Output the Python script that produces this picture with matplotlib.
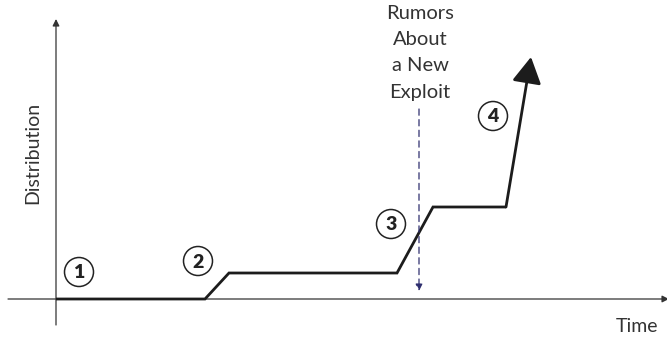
import matplotlib.pyplot as plt
from matplotlib.patches import Circle, FancyArrowPatch

plt.rcParams['font.family'] = ['Lato', 'DejaVu Sans']

# exposure curve (arbitrary units), last segment ends in an arrow head
time = [0, 14.9, 17.3, 34.1, 37.7, 45.0, 47.5]
distribution = [0, 0, 2.6, 2.6, 9.2, 9.2, 24.2]

# moment the rumors appear
rumor_time = 36.3
rumor_text = "Rumors\nAbout\na New\nExploit"

# numbered phases
phase_labels = ["1", "2", "3", "4"]
phase_pos = [(2.3, 2.7), (14.2, 3.8), (33.5, 7.5), (43.7, 18.3)]

fig = plt.figure(figsize=(6.67, 3.5), dpi=100)
ax = fig.add_axes([0, 0, 1, 1])
ax.set_xlim(-5.6, 61.1)
ax.set_ylim(-5.1, 29.9)
ax.axis('off')

axis_col = '#333333'
line_col = '#1c1c1c'

# axes with arrows
ax.add_patch(FancyArrowPatch((-4.8, 0), (61.3, 0), arrowstyle='-|>', mutation_scale=10,
                             lw=0.9, color=axis_col, shrinkA=0, shrinkB=0))
ax.add_patch(FancyArrowPatch((0, -2.6), (0, 28.0), arrowstyle='-|>', mutation_scale=10,
                             lw=0.9, color=axis_col, shrinkA=0, shrinkB=0))

# curve
ax.plot(time[:-1], distribution[:-1], color=line_col, lw=2.0, solid_joinstyle='miter',
        solid_capstyle='butt', zorder=3)
ax.add_patch(FancyArrowPatch((time[-2], distribution[-2]), (time[-1], distribution[-1]),
                             arrowstyle='-|>,head_length=0.8,head_width=0.45', mutation_scale=20,
                             lw=2.0, color=line_col, shrinkA=0, shrinkB=0, zorder=3))

# rumor marker
ax.add_patch(FancyArrowPatch((rumor_time, 19.0), (rumor_time, 0.8), arrowstyle='-|>',
                             mutation_scale=10, lw=0.9, color='#2e2e6e', linestyle=(0, (5, 3.5)),
                             shrinkA=0, shrinkB=0, zorder=4))
ax.text(rumor_time + 0.1, 29.4, rumor_text, ha='center', va='top', fontsize=14.5,
        linespacing=1.66, color='#333333')

# phase circles
for lab, (x, y) in zip(phase_labels, phase_pos):
    ax.add_patch(Circle((x, y), 1.45, fill=False, lw=1.1, ec='#222222', zorder=5))
    ax.text(x, y - 0.1, lab, ha='center', va='center', fontsize=14, fontweight='heavy',
            color='#222222', zorder=6)

ax.text(-2.3, 14.6, "Distribution", rotation=90, ha='center', va='center', fontsize=14,
        color='#333333')
ax.text(58.1, -2.7, "Time", ha='center', va='center', fontsize=14, color='#333333')

fig.savefig('out.png', dpi=100)
